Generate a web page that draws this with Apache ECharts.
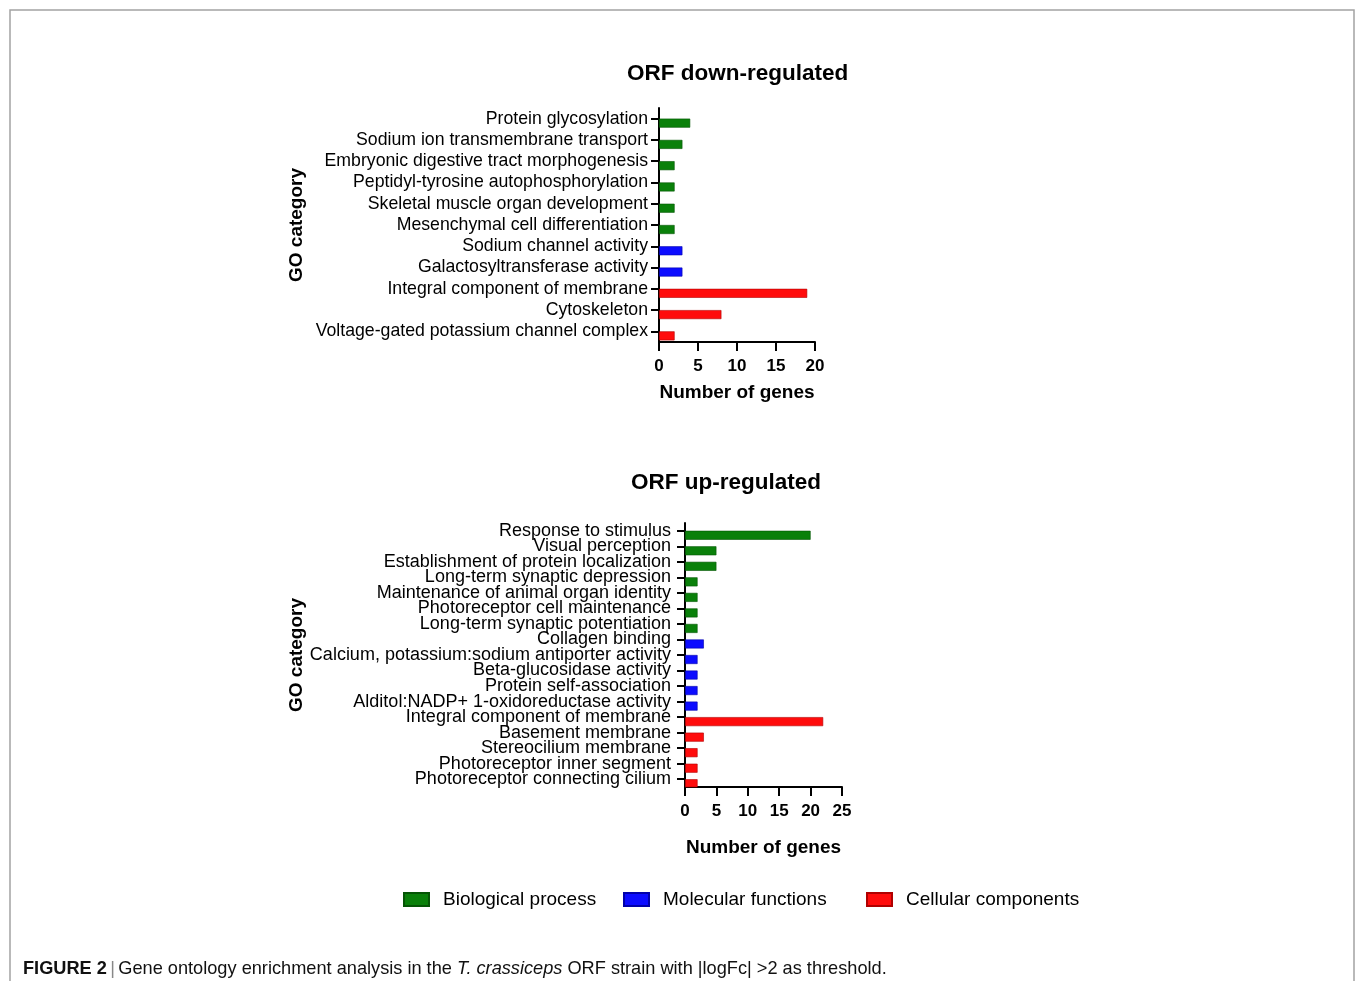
<!DOCTYPE html>
<html>
<head>
<meta charset="utf-8">
<title>GO enrichment – ORF strain</title>
<script src="https://cdn.jsdelivr.net/npm/echarts@6/dist/echarts.min.js"></script>
<style>
  html, body { margin: 0; padding: 0; background: #fff; }
  #chart { width: 1355px; height: 981px; }
</style>
</head>
<body>
<div id="chart"></div>
<script>
// GO term groups
const groupNames = ['Biological process', 'Molecular functions', 'Cellular components'];
const groupColors = ['#0a800a', '#0c0cff', '#ff0c0c'];
const groupBorders = ['#055505', '#0000aa', '#b00000'];

// ORF down-regulated
const downCategories = [
  'Protein glycosylation',
  'Sodium ion transmembrane transport',
  'Embryonic digestive tract morphogenesis',
  'Peptidyl-tyrosine autophosphorylation',
  'Skeletal muscle organ development',
  'Mesenchymal cell differentiation',
  'Sodium channel activity',
  'Galactosyltransferase activity',
  'Integral component of membrane',
  'Cytoskeleton',
  'Voltage-gated potassium channel complex'
];
const downValues = [4, 3, 2, 2, 2, 2, 3, 3, 19, 8, 2];
const downGroups = [0, 0, 0, 0, 0, 0, 1, 1, 2, 2, 2];
const downTicks = [0, 5, 10, 15, 20];

// ORF up-regulated
const upCategories = [
  'Response to stimulus',
  'Visual perception',
  'Establishment of protein localization',
  'Long-term synaptic depression',
  'Maintenance of animal organ identity',
  'Photoreceptor cell maintenance',
  'Long-term synaptic potentiation',
  'Collagen binding',
  'Calcium, potassium:sodium antiporter activity',
  'Beta-glucosidase activity',
  'Protein self-association',
  'Alditol:NADP+ 1-oxidoreductase activity',
  'Integral component of membrane',
  'Basement membrane',
  'Stereocilium membrane',
  'Photoreceptor inner segment',
  'Photoreceptor connecting cilium'
];
const upValues = [20, 5, 5, 2, 2, 2, 2, 3, 2, 2, 2, 2, 22, 3, 2, 2, 2];
const upGroups = [0, 0, 0, 0, 0, 0, 0, 1, 1, 1, 1, 1, 2, 2, 2, 2, 2];
const upTicks = [0, 5, 10, 15, 20, 25];

const FONT = 'Liberation Sans, Arial, Helvetica, sans-serif';

function groupData(values, groups, g) {
  return values.map((v, i) => (groups[i] === g ? v : '-'));
}

function panelSeries(values, groups, axisIndex) {
  const list = [{
    // empty slot so each bar hangs just below its tick, as in grouped layout
    type: 'bar',
    name: '__slot' + axisIndex,
    xAxisIndex: axisIndex,
    yAxisIndex: axisIndex,
    barWidth: 9,
    barGap: '0%',
    silent: true,
    data: values.map(() => '-')
  }];
  groupNames.forEach((name, g) => {
    list.push({
      type: 'bar',
      name: name,
      stack: 'go' + axisIndex,
      xAxisIndex: axisIndex,
      yAxisIndex: axisIndex,
      barWidth: 9,
      barGap: '0%',
      itemStyle: { color: groupColors[g], borderColor: groupBorders[g], borderWidth: 0.6 },
      data: groupData(values, groups, g)
    });
  });
  return list;
}

function valueAxis(gridIndex, ticks, labelMargin, nameGap) {
  return {
    type: 'value',
    gridIndex: gridIndex,
    min: ticks[0],
    max: ticks[ticks.length - 1],
    interval: ticks[1] - ticks[0],
    name: 'Number of genes',
    nameLocation: 'middle',
    nameGap: nameGap,
    nameTextStyle: { fontFamily: FONT, fontWeight: 'bold', fontSize: 19, color: '#000' },
    axisLine: { show: true, lineStyle: { color: '#000', width: 2 } },
    axisTick: { show: true, length: 9, lineStyle: { color: '#000', width: 2 } },
    axisLabel: { fontFamily: FONT, fontWeight: 'bold', fontSize: 17, color: '#000', margin: labelMargin },
    splitLine: { show: false }
  };
}

function categoryAxis(gridIndex, cats, fontSize, labelMargin, nameGap) {
  return {
    type: 'category',
    gridIndex: gridIndex,
    data: cats,
    inverse: true,
    name: 'GO category',
    nameLocation: 'middle',
    nameGap: nameGap,
    nameRotate: 90,
    nameTextStyle: { fontFamily: FONT, fontWeight: 'bold', fontSize: 19, color: '#000' },
    axisLine: { show: true, lineStyle: { color: '#000', width: 2 } },
    axisTick: { show: true, alignWithLabel: true, length: 8, lineStyle: { color: '#000', width: 2 } },
    axisLabel: { interval: 0, fontFamily: FONT, fontSize: fontSize, color: '#000', margin: labelMargin }
  };
}

function legendItem(g, left) {
  return {
    left: left,
    top: 890,
    padding: 0,
    itemWidth: 25,
    itemHeight: 13,
    icon: 'rect',
    selectedMode: false,
    data: [groupNames[g]],
    textStyle: { fontFamily: FONT, fontSize: 19, color: '#000', padding: [0, 0, 0, 9] }
  };
}

const chart = echarts.init(document.getElementById('chart'));

chart.setOption({
  backgroundColor: '#fff',
  animation: false,
  title: [
    { text: 'ORF down-regulated', left: 627, top: 62, padding: 0,
      textStyle: { fontFamily: FONT, fontWeight: 'bold', fontSize: 22.5, color: '#000' } },
    { text: 'ORF up-regulated', left: 631, top: 471, padding: 0,
      textStyle: { fontFamily: FONT, fontWeight: 'bold', fontSize: 22.5, color: '#000' } }
  ],
  legend: [legendItem(0, 403), legendItem(1, 623), legendItem(2, 866)],
  grid: [
    { left: 659, top: 108, width: 156, height: 234, containLabel: false },
    { left: 685, top: 523, width: 157, height: 264, containLabel: false }
  ],
  xAxis: [
    valueAxis(0, downTicks, 16, 41),
    valueAxis(1, upTicks, 16, 51)
  ],
  yAxis: [
    categoryAxis(0, downCategories, 17.7, 11, 353),
    categoryAxis(1, upCategories, 18, 14, 379)
  ],
  series: panelSeries(downValues, downGroups, 0).concat(panelSeries(upValues, upGroups, 1)),
  graphic: [
    {
      type: 'rect',
      shape: { x: 10, y: 10, width: 1344, height: 1100 },
      style: { fill: 'none', stroke: '#a3a3a3', lineWidth: 1.5 },
      silent: true
    },
    {
      type: 'text',
      left: 23,
      top: 960,
      style: {
        text: '{b|FIGURE 2} {s||} {n|Gene ontology enrichment analysis in the }{i|T. crassiceps}{n| ORF strain with |logFc| >2 as threshold.}',
        rich: {
          b: { fontFamily: FONT, fontWeight: 'bold', fontSize: 18.2, fill: '#111' },
          s: { fontFamily: FONT, fontSize: 18.2, fill: '#888' },
          n: { fontFamily: FONT, fontSize: 18.2, fill: '#111' },
          i: { fontFamily: FONT, fontStyle: 'italic', fontSize: 18.2, fill: '#111' }
        }
      },
      silent: true
    }
  ]
});
</script>
</body>
</html>
